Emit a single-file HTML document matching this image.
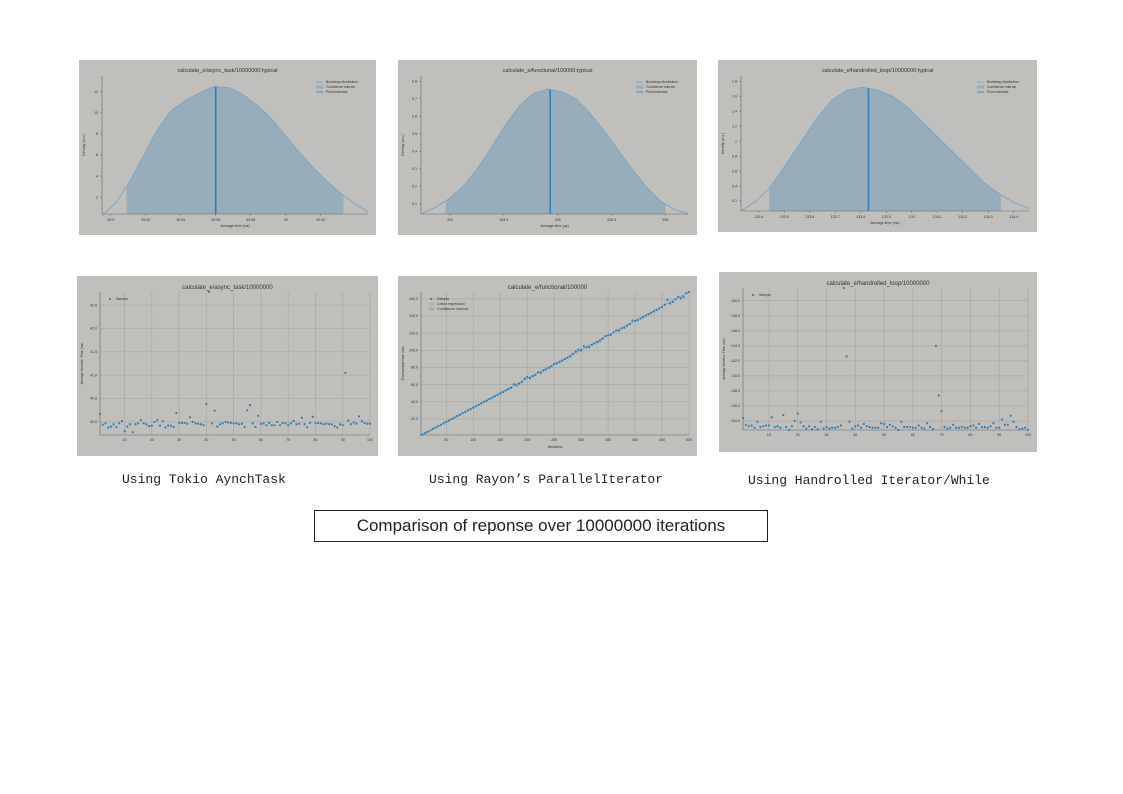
<!DOCTYPE html>
<html><head><meta charset="utf-8">
<style>
html,body{margin:0;padding:0;background:#fff;}
body{width:1123px;height:794px;position:relative;overflow:hidden;font-family:"Liberation Sans",sans-serif;}
svg{position:absolute;left:0;top:0;}
.cap{position:absolute;font-family:"Liberation Mono",monospace;font-size:13px;color:#222;white-space:nowrap;}
#title-box{position:absolute;left:314px;top:510px;width:452px;height:30px;border:1px solid #222;text-align:center;line-height:30px;font-size:17px;color:#222;}
</style></head>
<body>
<svg id="chart" width="1123" height="794" xmlns="http://www.w3.org/2000/svg"></svg>
<div class="cap" style="left:122px;top:472px;">Using Tokio AynchTask</div>
<div class="cap" style="left:429px;top:472px;">Using Rayon’s ParallelIterator</div>
<div class="cap" style="left:748px;top:473px;">Using Handrolled Iterator/While</div>
<div id="title-box">Comparison of reponse over 10000000 iterations</div>
<script>
// ---------- density data ----------
const d1Ys = [0.2,1.5,3.5,6,8.5,10.3,11.2,11.9,12.5,12.4,11.8,10.8,9.6,8.0,6.4,4.9,3.6,2.4,1.4,0.6];
const d1XTicks = [39.9,39.92,39.94,39.96,39.98,40,40.02];
const d1YTicks = [2,4,6,8,10,12];
const d2Ys = [0.045,0.08,0.13,0.2,0.3,0.42,0.55,0.66,0.73,0.755,0.74,0.7,0.62,0.52,0.41,0.3,0.2,0.12,0.07,0.045];
const d2XTicks = [334,334.5,335,335.5,336];
const d2YTicks = [0.1,0.2,0.3,0.4,0.5,0.6,0.7,0.8];
const d3Ys = [0.07,0.2,0.4,0.7,1.0,1.3,1.55,1.68,1.72,1.68,1.6,1.45,1.25,1.05,0.85,0.65,0.45,0.3,0.18,0.1];
const d3XTicks = [133.4,133.5,133.6,133.7,133.8,133.9,134,134.1,134.2,134.3,134.4];
const d3YTicks = [0.2,0.4,0.6,0.8,1,1.2,1.4,1.6,1.8];
// ---------- scatter data ----------
const s1Vals = [40.17,39.94,39.97,39.88,39.9,39.95,39.89,39.97,40.02,39.8,39.9,39.95,39.78,39.95,39.97,40.04,39.97,39.95,39.91,39.92,40.0,40.04,39.92,40.02,39.88,39.92,39.92,39.89,40.19,39.98,39.98,39.98,39.96,40.1,40.0,39.97,39.96,39.95,39.93,40.38,42.78,39.97,40.24,39.9,39.95,39.97,40.0,39.99,39.98,39.97,39.97,39.95,39.96,39.89,40.25,40.36,39.97,39.89,40.13,39.96,39.97,39.93,39.98,39.93,39.93,40.0,39.93,39.98,39.97,39.93,39.97,40.02,39.95,39.96,40.09,39.95,39.89,39.98,40.11,39.97,39.98,39.97,39.95,39.96,39.95,39.95,39.91,39.88,39.95,39.93,41.05,40.03,39.95,39.99,39.96,40.12,40.02,39.98,39.96,39.96];
const s1XTicks = [10,20,30,40,50,60,70,80,90,100];
const s1YTicks = [40.0,40.5,41.0,41.5,42.0,42.5];
const s2Vals = [1.6,3.3,5.0,6.6,8.3,10.0,11.5,13.2,15.0,16.6,18.2,19.9,21.5,23.3,24.8,26.6,28.1,29.9,31.5,33.2,34.9,36.4,38.2,39.9,41.4,43.2,44.8,46.5,48.1,49.8,51.3,53.1,54.8,56.3,60.5,59.2,61.2,63.1,67.0,68.9,67.6,69.8,71.3,74.5,73.6,76.4,77.9,79.6,81.4,84.0,84.6,86.3,87.9,89.7,91.2,93.0,96.0,98.6,100.8,100.0,105.0,103.4,103.8,106.3,107.9,109.6,111.2,113.5,116.8,117.4,118.0,121.0,123.2,123.0,125.5,126.3,128.6,130.5,134.8,134.3,135.0,137.0,138.7,140.3,142.1,143.6,145.3,147.0,148.7,150.3,153.0,158.7,154.5,156.3,159.5,162.5,160.5,162.5,166.5,168.0];
const s2XTicks = [50,100,150,200,250,300,350,400,450,500];
const s2YTicks = [20,40,60,80,100,120,140,160];
const s3Vals = [134.4,133.5,133.3,133.4,133.1,133.9,133.2,133.3,133.4,133.4,134.5,133.2,133.3,133.1,134.8,133.2,132.8,133.3,134.0,135.0,133.8,133.3,133.0,133.3,132.9,133.2,132.9,133.9,133.0,133.2,133.0,133.1,133.1,133.2,133.4,151.7,142.6,133.9,133.0,133.3,133.4,133.1,133.6,133.3,133.2,133.1,133.1,133.1,133.7,133.6,133.2,133.5,133.3,133.1,132.8,133.9,133.2,133.2,133.2,133.1,133.1,133.4,133.1,133.0,133.7,133.2,132.9,144.0,137.4,135.3,133.2,133.0,133.1,133.5,133.1,133.1,133.2,133.1,133.1,133.3,133.4,133.1,133.6,133.2,133.2,133.1,133.3,133.7,133.1,133.1,134.2,133.5,133.5,134.7,133.9,133.2,132.9,133.0,133.1,132.8];
const s3XTicks = [10,20,30,40,50,60,70,80,90,100];
const s3YTicks = [134,136,138,140,142,144,146,148,150];

const svg = document.getElementById('chart');
const NS = 'http://www.w3.org/2000/svg';
function mk(tag, attrs, parent){
  const e = document.createElementNS(NS, tag);
  for (const k in attrs) e.setAttribute(k, attrs[k]);
  (parent||svg).appendChild(e);
  return e;
}
function txt(str, x, y, size, anchor, parent, rot){
  const t = mk('text', {x:x, y:y, 'font-size':size, 'text-anchor':anchor||'middle', fill:'#333', 'font-family':'Liberation Sans, sans-serif'}, parent);
  if (rot) t.setAttribute('transform', 'rotate(-90 '+x+' '+y+')');
  t.textContent = str;
  return t;
}

function density(cfg){
  const g = mk('g', {});
  
  
  mk('rect', {x:cfg.bx, y:cfg.by, width:cfg.bw, height:cfg.bh, fill:'#c0bfbb'}, g);
  const L=cfg.L,R=cfg.R,T=cfg.T,B=cfg.B;
  const sx = v => L + (v-cfg.xmin)/(cfg.xmax-cfg.xmin)*(R-L);
  const sy = v => B - (v-cfg.ymin)/(cfg.ymax-cfg.ymin)*(B-T);
  const n = cfg.ys.length;
  const xAt = i => cfg.xmin + i/(n-1)*(cfg.xmax-cfg.xmin);
  const yAtX = x => { const f=(x-cfg.xmin)/(cfg.xmax-cfg.xmin)*(n-1); const i=Math.min(n-2,Math.max(0,Math.floor(f))); const t=f-i; return cfg.ys[i]*(1-t)+cfg.ys[i+1]*t; };
  let d = 'M'+sx(cfg.ci[0])+','+B+' L'+sx(cfg.ci[0])+','+sy(yAtX(cfg.ci[0]));
  for (let i=0;i<n;i++){ const x=xAt(i); if (x>cfg.ci[0] && x<cfg.ci[1]) d+=' L'+sx(x)+','+sy(cfg.ys[i]); }
  d += ' L'+sx(cfg.ci[1])+','+sy(yAtX(cfg.ci[1]))+' L'+sx(cfg.ci[1])+','+B+' Z';
  const ci = mk('path', {d:d, fill:'#97adbb'}, g);
  
  
  let pd=''; for (let i=0;i<n;i++) pd += (i?' L':'M')+sx(xAt(i))+','+sy(cfg.ys[i]);
  const line = mk('path', {d:pd, fill:'none', stroke:'#7aa6c9', 'stroke-width':1}, g);
  
  
  const pe = mk('line', {x1:sx(cfg.pe), x2:sx(cfg.pe), y1:B, y2:sy(yAtX(cfg.pe)), stroke:'#2f7fb8', 'stroke-width':1.6}, g);
  
  
  mk('line', {x1:L, x2:R, y1:B, y2:B, stroke:'#666', 'stroke-width':0.6}, g);
  mk('line', {x1:L, x2:L, y1:T, y2:B, stroke:'#666', 'stroke-width':0.6}, g);
  cfg.xt.forEach(v=>{ mk('line',{x1:sx(v),x2:sx(v),y1:B,y2:B+2,stroke:'#666','stroke-width':0.5},g); txt(String(v), sx(v), B+7, 3.6, 'middle', g); });
  cfg.yt.forEach(v=>{ mk('line',{x1:L-2,x2:L,y1:sy(v),y2:sy(v),stroke:'#666','stroke-width':0.5},g); txt(String(v), L-4, sy(v)+1.2, 3.6, 'end', g); });
  txt(cfg.title, (cfg.bx+cfg.bx+cfg.bw)/2, cfg.by+12, 5.5, 'middle', g);
  txt(cfg.xlabel, (L+R)/2, B+13, 3.6, 'middle', g);
  txt('Density (a.u.)', cfg.bx+6, (T+B)/2, 3.6, 'middle', g, true);
  const lx = R-52, ly = T+6;
  ['Bootstrap distribution','Confidence interval','Point estimate'].forEach((s,i)=>{
    if (i===1) mk('rect',{x:lx,y:ly+i*5-1.5,width:7,height:3,fill:'#97adbb'},g);
    else mk('line',{x1:lx,x2:lx+7,y1:ly+i*5,y2:ly+i*5,stroke:i?'#2f7fb8':'#7aa6c9','stroke-width':0.8},g);
    txt(s, lx+10, ly+i*5+1.2, 3.4, 'start', g);
  });
}

function scatter(cfg){
  const g = mk('g', {});
  
  
  mk('rect', {x:cfg.bx, y:cfg.by, width:cfg.bw, height:cfg.bh, fill:'#c0bfbb'}, g);
  const L=cfg.L,R=cfg.R,T=cfg.T,B=cfg.B;
  const sx = v => L + (v-cfg.xmin)/(cfg.xmax-cfg.xmin)*(R-L);
  const sy = v => B - (v-cfg.ymin)/(cfg.ymax-cfg.ymin)*(B-T);
  cfg.xt.forEach(v=>{ mk('line',{x1:sx(v),x2:sx(v),y1:T,y2:B,stroke:'#a9a8a4','stroke-width':0.7},g); txt(String(v), sx(v), B+6, 3.6, 'middle', g); });
  cfg.yt.forEach(v=>{ mk('line',{x1:L,x2:R,y1:sy(v),y2:sy(v),stroke:'#a9a8a4','stroke-width':0.7},g); txt(v.toFixed(1), L-3, sy(v)+1.2, 3.6, 'end', g); });
  mk('line', {x1:L, x2:R, y1:B, y2:B, stroke:'#666', 'stroke-width':0.6}, g);
  mk('line', {x1:L, x2:L, y1:T, y2:B, stroke:'#666', 'stroke-width':0.6}, g);
  if (cfg.reg){
    const n=cfg.vals.length, xl=cfg.xs(n-1);
    const rl = mk('line',{x1:sx(0),y1:sy(0),x2:sx(xl),y2:sy(cfg.vals[n-1]),stroke:'#7aa6c9','stroke-width':1.2},g);
    
    
  }
  cfg.vals.forEach((v,i)=>{
    const c = mk('circle',{cx:sx(cfg.xs(i)), cy:sy(v), r:1.1, fill:'#2f7fb8'}, g);
    
    
  });
  txt(cfg.title, (cfg.bx+cfg.bx+cfg.bw)/2, cfg.by+13, 6, 'middle', g);
  txt(cfg.ylabel, cfg.bx+6, (T+B)/2, 3.4, 'middle', g, true);
  if (cfg.xlabel) txt(cfg.xlabel, (L+R)/2, B+13, 3.6, 'middle', g);
  const lx=L+8, ly=T+7;
  mk('circle',{cx:lx+2,cy:ly,r:1.1,fill:'#2f7fb8'},g); txt('Sample', lx+8, ly+1.2, 3.6, 'start', g);
  if (cfg.reg){
    mk('line',{x1:lx,x2:lx+5,y1:ly+5,y2:ly+5,stroke:'#7aa6c9','stroke-width':0.8},g); txt('Linear regression', lx+8, ly+6.2, 3.6, 'start', g);
    mk('rect',{x:lx,y:ly+8.5,width:5,height:3,fill:'#97adbb'},g); txt('Confidence interval', lx+8, ly+11.2, 3.6, 'start', g);
  }
}

density({name:'density-async-task', bx:79,by:60,bw:297,bh:175, L:102,R:368,T:76,B:214,
  xmin:39.895,xmax:40.047,ymin:0.4,ymax:13.5, ys:d1Ys, xt:d1XTicks, yt:d1YTicks, ci:[39.909,40.033], pe:39.960,
  title:'calculate_e/async_task/10000000:typical', xlabel:'Average time (ms)'});
density({name:'density-functional', bx:398,by:60,bw:299,bh:175, L:421,R:688,T:76,B:214,
  xmin:333.73,xmax:336.21,ymin:0.043,ymax:0.83, ys:d2Ys, xt:d2XTicks, yt:d2YTicks, ci:[333.96,336.0], pe:334.93,
  title:'calculate_e/functional/100000:typical', xlabel:'Average time (µs)'});
density({name:'density-handrolled-loop', bx:718,by:60,bw:319,bh:172, L:741,R:1029,T:76,B:211,
  xmin:133.33,xmax:134.46,ymin:0.067,ymax:1.87, ys:d3Ys, xt:d3XTicks, yt:d3YTicks, ci:[133.44,134.35], pe:133.83,
  title:'calculate_e/handrolled_loop/10000000:typical', xlabel:'Average time (ms)'});

scatter({name:'scatter-async-task', bx:77,by:276,bw:301,bh:180, L:100,R:370,T:292,B:435,
  xmin:1,xmax:100,ymin:39.72,ymax:42.78, vals:s1Vals, xs:i=>i+1, xt:s1XTicks, yt:s1YTicks,
  title:'calculate_e/async_task/10000000', ylabel:'Average Iteration Time (ms)'});
scatter({name:'scatter-functional', bx:398,by:276,bw:299,bh:180, L:421,R:689,T:292,B:435,
  xmin:3,xmax:500,ymin:1.3,ymax:168, vals:s2Vals, xs:i=>(i+1)*5, xt:s2XTicks, yt:s2YTicks, reg:true,
  title:'calculate_e/functional/100000', ylabel:'Total sample time (ms)', xlabel:'Iterations'});
scatter({name:'scatter-handrolled-loop', bx:719,by:272,bw:318,bh:180, L:743,R:1028,T:288,B:430,
  xmin:1,xmax:100,ymin:132.8,ymax:151.7, vals:s3Vals, xs:i=>i+1, xt:s3XTicks, yt:s3YTicks,
  title:'calculate_e/handrolled_loop/10000000', ylabel:'Average Iteration Time (ms)'});
</script>
</body></html>
